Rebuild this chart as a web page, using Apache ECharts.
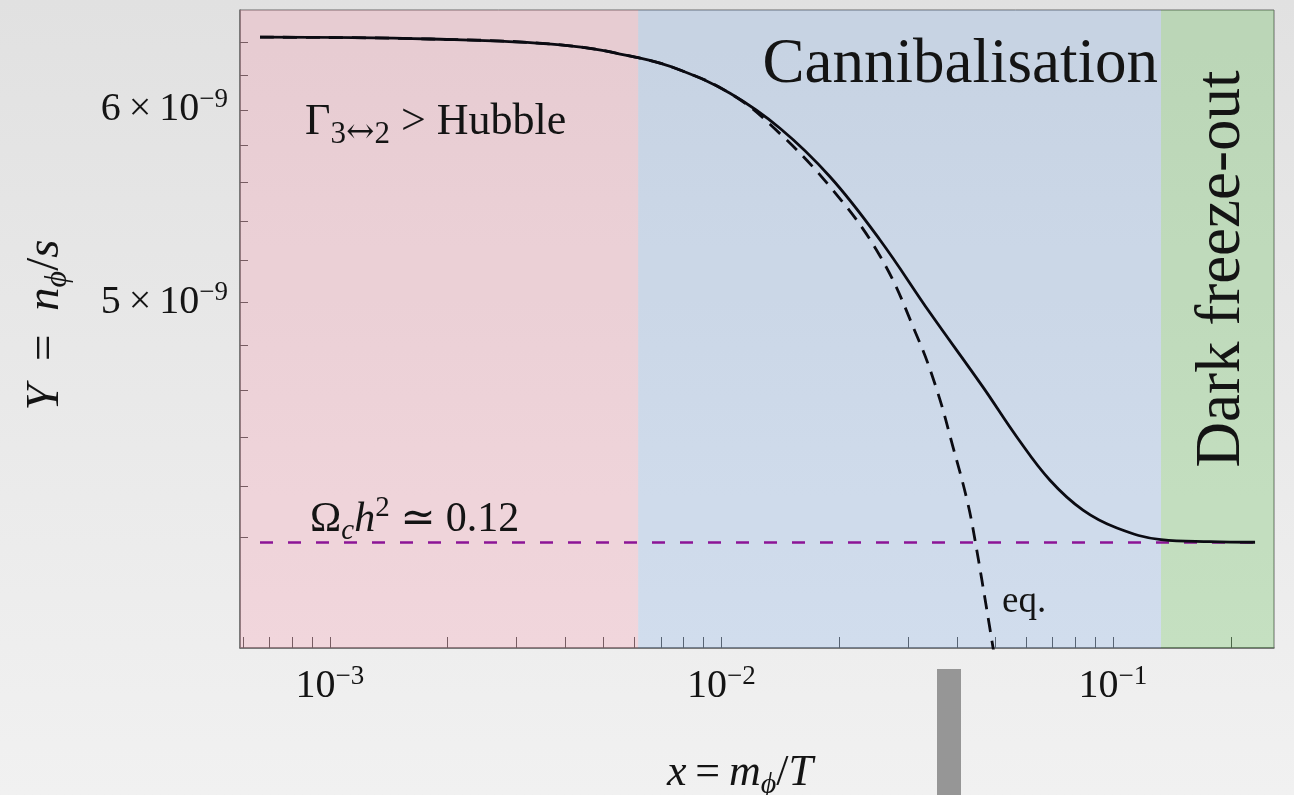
<!DOCTYPE html>
<html>
<head>
<meta charset="utf-8">
<script src="https://cdn.jsdelivr.net/npm/echarts@6/dist/echarts.min.js"></script>
<style>
  html, body { margin: 0; padding: 0; }
  #chart { width: 1294px; height: 795px; background: linear-gradient(to bottom, #e1e1e1, #f1f1f1); }
</style>
</head>
<body>
<div id="chart"></div>
<script>
// Comoving abundance Y = n_phi / s against x = m_phi / T (both axes logarithmic)

// full Boltzmann solution
const xFull = [6.63e-4, 1.802e-3, 3.938e-3, 6.124e-3, 7.837e-3, 1.052e-2, 1.411e-2, 1.894e-2,
               2.542e-2, 3.410e-2, 4.658e-2, 5.689e-2, 6.907e-2, 8.387e-2, 1.024e-1, 1.327e-1,
               1.770e-1, 2.307e-1];
const yFull = [6.428e-9, 6.417e-9, 6.380e-9, 6.304e-9, 6.231e-9, 6.095e-9, 5.896e-9, 5.631e-9,
               5.303e-9, 4.949e-9, 4.612e-9, 4.398e-9, 4.222e-9, 4.104e-9, 4.035e-9, 3.991e-9,
               3.983e-9, 3.981e-9];

// equilibrium abundance ("eq.")
const xEq = [6.63e-4, 1.802e-3, 3.938e-3, 6.124e-3, 7.837e-3, 1.052e-2, 1.354e-2, 1.894e-2,
             2.542e-2, 3.166e-2, 3.553e-2, 3.905e-2, 4.240e-2, 4.445e-2, 5.0e-2];
const yEq = [6.428e-9, 6.417e-9, 6.380e-9, 6.304e-9, 6.231e-9, 6.095e-9, 5.903e-9, 5.578e-9,
             5.223e-9, 4.837e-9, 4.599e-9, 4.357e-9, 4.144e-9, 3.989e-9, 3.56e-9];

// observed relic density, Omega_c h^2 ~ 0.12
const xOmega = [6.63e-4, 2.307e-1];
const yOmega = [3.98e-9, 3.98e-9];

// regime boundaries in x
const regimeEdges = [5.894e-4, 6.13e-3, 1.327e-1, 2.579e-1];
const regimeNames = ['Γ3↔2 > Hubble', 'Cannibalisation', 'Dark freeze-out'];

// axis ranges and ticks
const xRange = [5.894e-4, 2.579e-1];
const yRange = [3.601e-9, 6.596e-9];
const xTickValues = [6e-4, 7e-4, 8e-4, 9e-4, 1e-3, 2e-3, 3e-3, 4e-3, 5e-3, 6e-3, 7e-3, 8e-3, 9e-3,
                     1e-2, 2e-2, 3e-2, 4e-2, 5e-2, 6e-2, 7e-2, 8e-2, 9e-2, 1e-1, 2e-1];
const xLabelValues = [1e-3, 1e-2, 1e-1];
const yTickValues = [4.0e-9, 4.2e-9, 4.4e-9, 4.6e-9, 4.8e-9, 5.0e-9, 5.2e-9, 5.4e-9, 5.6e-9,
                     5.8e-9, 6.0e-9, 6.2e-9, 6.4e-9];
const yLabelValues = [5e-9, 6e-9];

// annotation anchors in data coordinates [x, Y]
const hubbleAt = [8.64e-4, 5.93e-9];
const cannibalAt = [1.303e-1, 6.26e-9];
const freezeAt = [1.91e-1, 5.159e-9];
const omegaAt = [8.90e-4, 4.065e-9];
const eqAt = [5.21e-2, 3.761e-9];

const SERIF = "'Liberation Serif', 'DejaVu Serif', serif";
const INK = '#141414';

const pairs = (xs, ys) => xs.map((x, i) => [x, ys[i]]);

function pow10Label(v) {
  const e = Math.round(Math.log10(v));
  return '{b|10}{s|\u2212' + Math.abs(e) + '}';
}
function sciLabel(v) {
  const e = Math.floor(Math.log10(v) + 1e-9);
  const m = Math.round(v / Math.pow(10, e));
  return '{b|' + m + '\u2009×\u200910}{s|\u2212' + Math.abs(e) + '}';
}

const tickRich = {
  b: { fontFamily: SERIF, fontSize: 40, color: INK, lineHeight: 46 },
  s: { fontFamily: SERIF, fontSize: 27, color: INK, lineHeight: 22, verticalAlign: 'top' }
};
const mathRich = size => ({
  i: { fontFamily: SERIF, fontStyle: 'italic', fontSize: size, color: INK, lineHeight: size + 10 },
  m: { fontFamily: SERIF, fontSize: size, color: INK, lineHeight: size + 10 },
  sub: { fontFamily: SERIF, fontStyle: 'italic', fontSize: Math.round(size * 0.68), color: INK, lineHeight: Math.round(size * 0.58), verticalAlign: 'bottom' },
  sup: { fontFamily: SERIF, fontSize: Math.round(size * 0.68), color: INK, lineHeight: Math.round(size * 0.52), verticalAlign: 'top' }
});

const regimeColors = ['rgba(255,121,151,0.2)', 'rgba(96,156,236,0.2)', 'rgba(36,171,16,0.2)'];

const chart = echarts.init(document.getElementById('chart'), null, { renderer: 'canvas' });

const option = {
  animation: false,
  backgroundColor: 'transparent',
  grid: {
    left: 240, right: 20, top: 10, bottom: 147,
    outerBoundsMode: 'none', containLabel: false,
    show: true, borderColor: '#6a6a6a', borderWidth: 1, backgroundColor: 'transparent'
  },
  xAxis: {
    type: 'log', logBase: 10, min: xRange[0], max: xRange[1],
    name: '{i|x}{m|\u2009=\u2009}{i|m}{sub|ϕ}{m|/}{i|T}',
    nameLocation: 'middle', nameGap: 98,
    nameTextStyle: { rich: mathRich(44), padding: [0, 34, 0, 0] },
    axisLine: { show: true, lineStyle: { color: '#6a6a6a', width: 1.5 } },
    axisTick: { show: true, inside: true, length: 11, lineStyle: { color: '#555', width: 1 }, customValues: xTickValues },
    axisLabel: { show: true, margin: 15, customValues: xLabelValues, formatter: pow10Label, rich: tickRich },
    splitLine: { show: false },
    minorTick: { show: false }
  },
  yAxis: {
    type: 'log', logBase: 10, min: yRange[0], max: yRange[1],
    name: '{i|Y}{m|\u2002=\u2002}{i|n}{sub|ϕ}{m|/}{i|s}',
    nameLocation: 'middle', nameGap: 166, nameRotate: 90,
    nameTextStyle: { rich: mathRich(47), padding: [0, 0, 0, 8] },
    axisLine: { show: true, lineStyle: { color: '#6a6a6a', width: 1.5 } },
    axisTick: { show: true, inside: true, length: 8, lineStyle: { color: '#555', width: 1 }, customValues: yTickValues },
    axisLabel: { show: true, margin: 12, customValues: yLabelValues, formatter: sciLabel, rich: tickRich },
    splitLine: { show: false },
    minorTick: { show: false }
  },
  series: [
    {
      name: 'Y', type: 'line', data: pairs(xFull, yFull), z: 3,
      showSymbol: false, symbol: 'none', smooth: 0.4,
      lineStyle: { color: '#0b0b12', width: 2.8 }
    },
    {
      name: 'Y_eq', type: 'line', data: pairs(xEq, yEq), z: 3,
      showSymbol: false, symbol: 'none', smooth: 0.4,
      lineStyle: { color: '#0b0b12', width: 2.8, type: [14, 9] }
    },
    {
      name: 'Omega', type: 'line', data: pairs(xOmega, yOmega), z: 2,
      showSymbol: false, symbol: 'none',
      lineStyle: { color: '#8c1496', width: 2.6, type: [13, 15] }
    },
    {
      name: 'regimes', type: 'line', data: [], z: 5,
      markArea: {
        silent: true,
        data: regimeNames.map((n, i) => [
          { name: n, xAxis: regimeEdges[i], itemStyle: { color: regimeColors[i] }, label: { show: false } },
          { xAxis: regimeEdges[i + 1] }
        ])
      }
    }
  ]
};
chart.setOption(option);

const toPx = p => chart.convertToPixel({ gridIndex: 0 }, p);
const note = (at, text, rich, align, extra) => {
  const p = toPx(at);
  return Object.assign({
    type: 'text', x: p[0], y: p[1], z: 20,
    style: { text: text, rich: rich, align: align, textAlign: align, verticalAlign: 'middle', textVerticalAlign: 'middle', fill: INK }
  }, extra || {});
};

const bigRich = { t: { fontFamily: SERIF, fontSize: 63, color: INK, lineHeight: 70 } };
const hubbleRich = {
  m: { fontFamily: SERIF, fontSize: 44, color: INK, lineHeight: 56 },
  sub: { fontFamily: SERIF, fontSize: 31, color: INK, lineHeight: 25, verticalAlign: 'bottom' },
  arr: { fontFamily: "'DejaVu Serif', serif", fontSize: 34, color: INK, lineHeight: 25, verticalAlign: 'bottom' }
};
const eqRich = { t: { fontFamily: SERIF, fontSize: 37, color: '#2a2f38', lineHeight: 40 } };

chart.setOption({
  graphic: [
    note(hubbleAt, '{m|Γ}{sub|3}{arr|↔}{sub|2}{m| > Hubble}', hubbleRich, 'left'),
    note(cannibalAt, '{t|Cannibalisation}', bigRich, 'right'),
    note(freezeAt, '{t|Dark freeze-out}', bigRich, 'center', { rotation: Math.PI / 2 }),
    note(omegaAt, '{m|Ω}{sub|c}{i|h}{sup|2}{m| ≃ 0.12}', mathRich(42), 'left'),
    note(eqAt, '{t|eq.}', eqRich, 'left'),
    { type: 'rect', left: 937, top: 669, z: 20, shape: { width: 24, height: 126 }, style: { fill: '#969696' } }
  ]
});
</script>
</body>
</html>
